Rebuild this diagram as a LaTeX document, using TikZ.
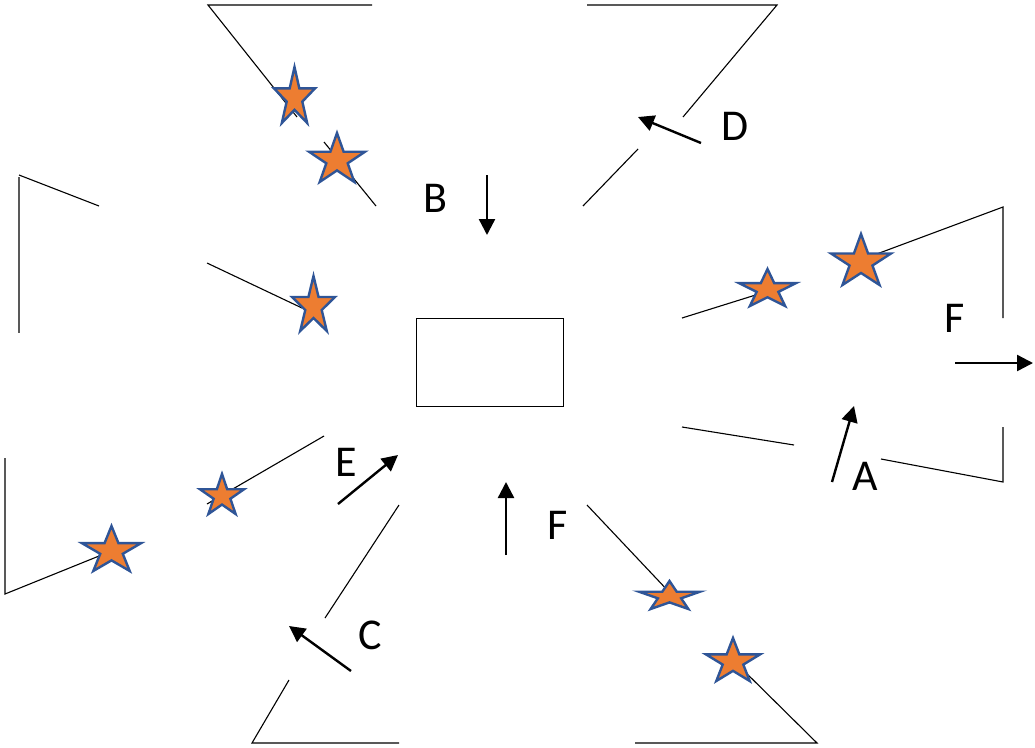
\documentclass[tikz,border=0pt]{standalone}
\usepackage{fontspec}
\setmainfont{Carlito}
\usetikzlibrary{arrows.meta}
\definecolor{starfill}{HTML}{ED7D31}
\definecolor{starline}{HTML}{2F5597}
\tikzset{
  wall/.style={line width=1.1pt, black},
  greywall/.style={line width=2pt, black!65},
  arr/.style={line width=2.4pt, -{Triangle[length=16pt,width=16pt]}},
  lbl/.style={font=\fontsize{44}{44}\selectfont, inner sep=0pt},
  pstar/.pic={
    \path[fill=starfill, draw=starline, line width=2.4pt, line join=miter]
      (0,-1) -- (-0.2361,-0.236) -- (-1,-0.236) -- (-0.382,0.2361) -- (-0.6181,1)
      -- (0,0.5279) -- (0.6181,1) -- (0.382,0.2361) -- (1,-0.236) -- (0.2361,-0.236) -- cycle;
  }
}
\begin{document}
\begin{tikzpicture}[x=1pt,y=-1pt]
\useasboundingbox (0,0) rectangle (1035,747);
% centre box
\node[draw, line width=1pt, minimum width=147pt, minimum height=88pt, inner sep=0pt] (box) at (489.5,362) {};
% top-left funnel
\draw[wall] (372,5) -- (208,5) -- (297,117);
\draw[wall] (324,142) -- (376,206);
% top-right funnel
\draw[wall] (587,5) -- (777,5) -- (683,117);
\draw[wall] (638,149) -- (583,206);
% left-top funnel
\draw[wall] (19,175) -- (99,206);
\draw[greywall] (19,177) -- (19,333);
\draw[wall] (207,263) -- (302,308);
% left-bottom funnel
\draw[wall] (5,458) -- (5,594) -- (104,554);
\draw[wall] (207,504) -- (324,436);
% bottom-left funnel
\draw[wall] (399,505) -- (325,618);
\draw[wall] (289,680) -- (252,743) -- (399,743);
% bottom-right funnel
\draw[wall] (587,505) -- (671,594);
\draw[wall] (733,660) -- (817,743) -- (635,743);
% right funnel
\draw[wall] (682,318) -- (762,293);
\draw[wall] (866,258) -- (1003,207) -- (1003,318);
\draw[wall] (682,427) -- (794,445);
\draw[wall] (881,459) -- (1003,482) -- (1003,427);
% stars
\pic[xscale=20.5,yscale=28] at (294.5,95) {pstar};
\pic[xscale=28,yscale=24.5] at (337,157.5) {pstar};
\pic[xscale=28.5,yscale=18.5] at (767.5,287.5) {pstar};
\pic[xscale=30,yscale=25.5] at (861,259.5) {pstar};
\pic[xscale=21.5,yscale=27.5] at (313.5,303.5) {pstar};
\pic[xscale=22,yscale=20] at (222,494) {pstar};
\pic[xscale=29.5,yscale=22.5] at (111.5,548.5) {pstar};
\pic[xscale=30.5,yscale=14] at (669.5,595) {pstar};
\pic[xscale=27,yscale=21.5] at (733,659.5) {pstar};
% arrows
\coordinate (b1) at (487,175); \coordinate (b2) at (487,235);
\coordinate (d1) at (701,143); \coordinate (d2) at (638,117);
\coordinate (fr1) at (955,363); \coordinate (fr2) at (1033,363);
\coordinate (a1) at (832,482); \coordinate (a2) at (854,406);
\coordinate (e1) at (338,504); \coordinate (e2) at (398,455);
\coordinate (c1) at (351,671); \coordinate (c2) at (289,626);
\coordinate (fb1) at (506,555); \coordinate (fb2) at (506,482);
\draw[arr] (b1) -- (b2);
\draw[arr] (d1) -- (d2);
\draw[arr] (fr1) -- (fr2);
\draw[arr] (a1) -- (a2);
\draw[arr] (e1) -- (e2);
\draw[arr] (c1) -- (c2);
\draw[arr] (fb1) -- (fb2);
% labels
\node[lbl] (lB) at (435,198) {B};
\node[lbl] (lD) at (735,126) {D};
\node[lbl] (lFr) at (955,318) {F};
\node[lbl] (lA) at (865,476) {A};
\node[lbl] (lE) at (346,462) {E};
\node[lbl] (lC) at (370,635) {C};
\node[lbl] (lFb) at (558,525) {F};
\end{tikzpicture}
\end{document}
